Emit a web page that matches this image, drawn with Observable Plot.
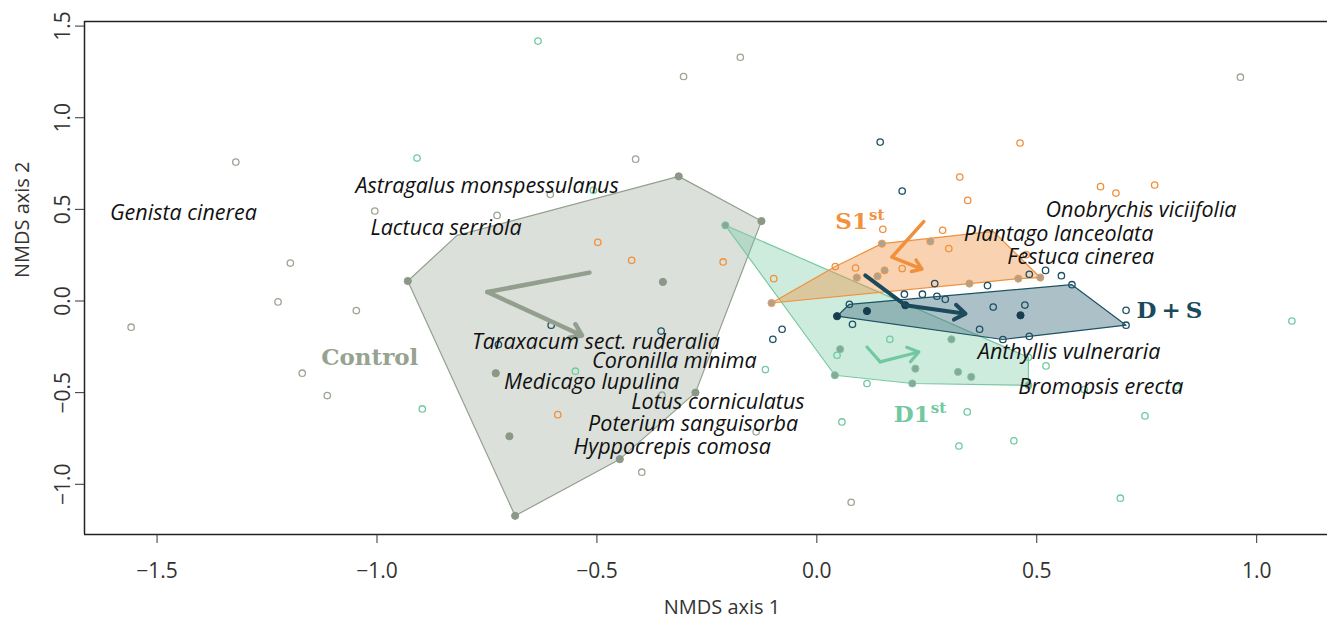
<!DOCTYPE html>
<html><head><meta charset="utf-8">
<script src="https://cdn.jsdelivr.net/npm/d3@7"></script>
<script src="https://cdn.jsdelivr.net/npm/@observablehq/plot@0.6"></script>
<style>body{margin:0;background:#fff;} #chart svg{display:block;}</style>
</head><body><div id="chart"></div>
<script>
// ---- axes ----
const xTicks = [-1.5, -1.0, -0.5, 0, 0.5, 1.0];
const yTicks = [-1.0, -0.5, 0, 0.5, 1.0, 1.5];
const xDomain = [-1.665, 1.161];
const yDomain = [-1.274, 1.525];
const xLabel = "NMDS axis 1";
const yLabel = "NMDS axis 2";

// ---- Control ----
const controlOpen = [[-1.321,0.758],[-1.005,0.491],[-1.197,0.207],[-1.225,-0.005],[-1.047,-0.052],[-1.559,-0.143],[-1.170,-0.394],[-1.113,-0.516],[-0.303,1.225],[-0.174,1.330],[-0.412,0.774],[-0.606,0.582],[-0.727,0.467],[0.963,1.221],[-0.398,-0.934],[0.078,-1.098],[-0.138,-0.714],[-0.352,-0.514]];
const controlFilled = [[-0.930,0.109],[-0.314,0.680],[-0.126,0.436],[-0.276,-0.500],[-0.448,-0.863],[-0.686,-1.172],[-0.350,0.104],[-0.730,-0.394],[-0.699,-0.738]];
const controlHull = [[-0.930,0.109],[-0.818,0.358],[-0.314,0.680],[-0.126,0.436],[-0.276,-0.500],[-0.448,-0.863],[-0.686,-1.172]];
const controlArrow = [[-0.517,0.155],[-0.749,0.049],[-0.534,-0.188]];

// ---- S1st ----
const s1Open = [[0.462,0.862],[0.325,0.676],[0.343,0.549],[0.645,0.624],[0.680,0.589],[0.768,0.633],[0.751,0.477],[0.286,0.386],[0.300,0.286],[0.194,0.177],[0.476,0.253],[0.150,0.391],[0.088,0.180],[0.042,0.188],[-0.098,0.122],[-0.213,0.213],[-0.498,0.320],[-0.421,0.222],[-0.589,-0.620]];
const s1Filled = [[-0.103,-0.011],[0.148,0.313],[0.258,0.325],[0.154,0.167],[0.091,0.128],[0.138,0.135],[0.347,0.095],[0.458,0.122],[0.508,0.128]];
const s1Hull = [[-0.103,-0.011],[0.042,0.188],[0.148,0.313],[0.401,0.380],[0.508,0.128],[0.458,0.122],[0.347,0.095]];
const s1Arrow = [[0.243,0.433],[0.171,0.240],[0.239,0.174]];

// ---- D1st ----
const d1Open = [[-0.634,1.418],[-0.909,0.780],[-0.508,0.604],[-0.897,-0.589],[-0.549,-0.383],[-0.117,-0.374],[0.057,-0.660],[0.114,-0.450],[0.046,-0.296],[0.166,-0.209],[0.342,-0.605],[0.323,-0.791],[0.448,-0.763],[0.521,-0.354],[0.746,-0.627],[0.690,-1.076],[1.080,-0.109],[0.819,-0.472],[0.608,-0.483],[0.481,-0.307]];
const d1Filled = [[-0.208,0.413],[0.053,-0.263],[0.224,-0.369],[0.306,-0.209],[0.321,-0.387],[0.351,-0.414],[0.217,-0.450],[0.041,-0.405],[0.481,-0.460]];
const d1Hull = [[-0.208,0.413],[0.481,-0.307],[0.481,-0.460],[0.217,-0.450],[0.041,-0.405]];
const d1Arrow = [[0.114,-0.251],[0.144,-0.332],[0.232,-0.278]];

// ---- D + S ----
const dsOpen = [[0.144,0.867],[0.194,0.600],[0.520,0.167],[0.556,0.138],[0.483,0.146],[0.268,0.095],[0.388,0.084],[0.199,0.037],[0.240,0.037],[0.273,0.026],[0.292,0.009],[0.401,-0.033],[0.473,-0.022],[0.370,-0.154],[0.703,-0.051],[0.081,-0.127],[-0.079,-0.154],[-0.100,-0.209],[-0.354,-0.164],[-0.604,-0.132],[-0.724,-0.238],[0.074,-0.018],[0.580,0.089],[0.703,-0.132],[0.483,-0.193],[0.423,-0.210]];
const dsFilled = [[0.046,-0.083],[0.114,-0.055],[0.201,-0.023],[0.463,-0.078]];
const dsHull = [[0.046,-0.083],[0.074,-0.018],[0.580,0.089],[0.703,-0.132],[0.483,-0.193],[0.423,-0.210]];
const dsArrow = [[0.110,0.140],[0.201,-0.023],[0.338,-0.069]];

// ---- species labels ----
const speciesNames = ["Genista cinerea","Astragalus monspessulanus","Lactuca serriola","Taraxacum sect. ruderalia","Coronilla minima","Medicago lupulina","Lotus corniculatus","Poterium sanguisorba","Hyppocrepis comosa","Onobrychis viciifolia","Plantago lanceolata","Festuca cinerea","Anthyllis vulneraria","Bromopsis erecta"];
const speciesX = [-1.607,-1.049,-1.015,-0.784,-0.511,-0.711,-0.422,-0.520,-0.553,0.520,0.334,0.433,0.366,0.458];
const speciesY = [0.482,0.625,0.398,-0.224,-0.329,-0.440,-0.551,-0.672,-0.796,0.495,0.367,0.240,-0.281,-0.469];

// ---- group labels ----
const groupMain = ["Control","S1","D1","D + S"];
const groupSup = ["","st","st",""];
const groupX = [-1.127,0.042,0.175,0.727];
const groupY = [-0.310,0.435,-0.618,-0.051];

// ---- styles (not data) ----
const groups = [
  {name:"Control", open:controlOpen, filled:controlFilled, hull:controlHull, arrow:controlArrow,
   s:{pt:"#9ba696", dot:"#8c9887", dotStroke:"#8c9887", hullFill:"#a8b2a3", hullOp:0.4, hullStroke:"#93a08e", arrow:"#939f8e", aw:4.5}},
  {name:"D1st", open:d1Open, filled:d1Filled, hull:d1Hull, arrow:d1Arrow,
   s:{pt:"#6fcaa0", dot:"#88a797", dotStroke:"#7ccaa4", hullFill:"#72c9a0", hullOp:0.35, hullStroke:"#79c9a3", arrow:"#74c8a0", aw:3.2}},
  {name:"S1st", open:s1Open, filled:s1Filled, hull:s1Hull, arrow:s1Arrow,
   s:{pt:"#f0903c", dot:"#ada291", dotStroke:"#f29a50", hullFill:"#f0903c", hullOp:0.4, hullStroke:"#f0903c", arrow:"#f0903c", aw:3.5}},
  {name:"D + S", open:dsOpen, filled:dsFilled, hull:dsHull, arrow:dsArrow,
   s:{pt:"#1d5064", dot:"#163e4e", dotStroke:"#163e4e", hullFill:"#4f7a8a", hullOp:0.47, hullStroke:"#1f5264", arrow:"#1b4a5c", aw:4}}
];
const groupLabelColors = ["#96a391","#f0913e","#72c8a0","#1b4a5c"];

const fmt = d => d.toFixed(1).replace("-", "\u2212");

const marks = [];
for (const g of groups) {
  marks.push(Plot.line(g.hull, {x: d => d[0], y: d => d[1], curve: "linear-closed",
    fill: g.s.hullFill, fillOpacity: g.s.hullOp, stroke: g.s.hullStroke, strokeWidth: 1.2}));
}
for (const g of groups) {
  marks.push(Plot.dot(g.open, {x: d => d[0], y: d => d[1], r: 3.2, stroke: g.s.pt, strokeWidth: 1.3, fill: "none"}));
}
for (const g of groups) {
  marks.push(Plot.dot(g.filled, {x: d => d[0], y: d => d[1], r: 3.6, fill: g.s.dot, stroke: g.s.dotStroke, strokeWidth: 1}));
}
for (const g of groups) {
  const a = g.arrow;
  marks.push(Plot.link([a], {x1: d => d[0][0], y1: d => d[0][1], x2: d => d[1][0], y2: d => d[1][1],
    stroke: g.s.arrow, strokeWidth: g.s.aw, strokeLinecap: "round"}));
  marks.push(Plot.arrow([a], {x1: d => d[1][0], y1: d => d[1][1], x2: d => d[2][0], y2: d => d[2][1],
    stroke: g.s.arrow, strokeWidth: g.s.aw, headLength: 13 * 1.5 / g.s.aw, headAngle: 70, strokeLinecap: "round"}));
}
marks.push(Plot.ruleY([yDomain[0], yDomain[1]], {stroke: "#222", strokeWidth: 1.5}));
marks.push(Plot.ruleX([xDomain[0]], {stroke: "#222", strokeWidth: 1.5}));
marks.push(Plot.axisX({ticks: xTicks, tickFormat: fmt, tickSize: 9, tickPadding: 20, fontSize: 21, label: null}));
marks.push(Plot.axisY({ticks: yTicks, tickFormat: fmt, tickSize: 9, tickPadding: 6, tickRotate: -90, fontSize: 21, label: null}));
marks.push(Plot.text([xLabel], {text: d => d, frameAnchor: "bottom", dx: 16, dy: 73, fontSize: 20, lineAnchor: "middle", fill: "#333"}));
marks.push(Plot.text([yLabel], {text: d => d, frameAnchor: "left", dx: -62, rotate: -90, fontSize: 20, lineAnchor: "middle", fill: "#333"}));
marks.push(Plot.text(speciesNames, {x: (d, i) => speciesX[i], y: (d, i) => speciesY[i], text: d => d,
  textAnchor: "start", lineAnchor: "middle", fontStyle: "italic", fontSize: 21.5, fill: "#111", fontFamily: "Open Sans"}));
marks.push(Plot.text(groupMain, {x: (d, i) => groupX[i], y: (d, i) => groupY[i], text: d => d,
  textAnchor: "start", lineAnchor: "middle", fontWeight: "bold", fontSize: 23, fontFamily: "DejaVu Serif",
  fill: (d, i) => groupLabelColors[i]}));

const chart = Plot.plot({
  width: 1327, height: 619,
  marginLeft: 84, marginRight: 0, marginTop: 21, marginBottom: 85,
  x: {domain: xDomain},
  y: {domain: yDomain},
  style: {fontFamily: "Open Sans", color: "#333", background: "#fff"},
  marks
});
chart.querySelectorAll("text").forEach(t => {
  const i = groupMain.indexOf(t.textContent);
  if (i >= 0 && groupSup[i]) {
    const ts = document.createElementNS("http://www.w3.org/2000/svg", "tspan");
    ts.setAttribute("font-size", "15");
    ts.setAttribute("dy", "-9");
    ts.setAttribute("dx", "1");
    ts.textContent = groupSup[i];
    t.appendChild(ts);
  }
  if (t.textContent === "D + S") t.setAttribute("letter-spacing", "-1.5");
});
document.getElementById("chart").appendChild(chart);
</script>
</body></html>
